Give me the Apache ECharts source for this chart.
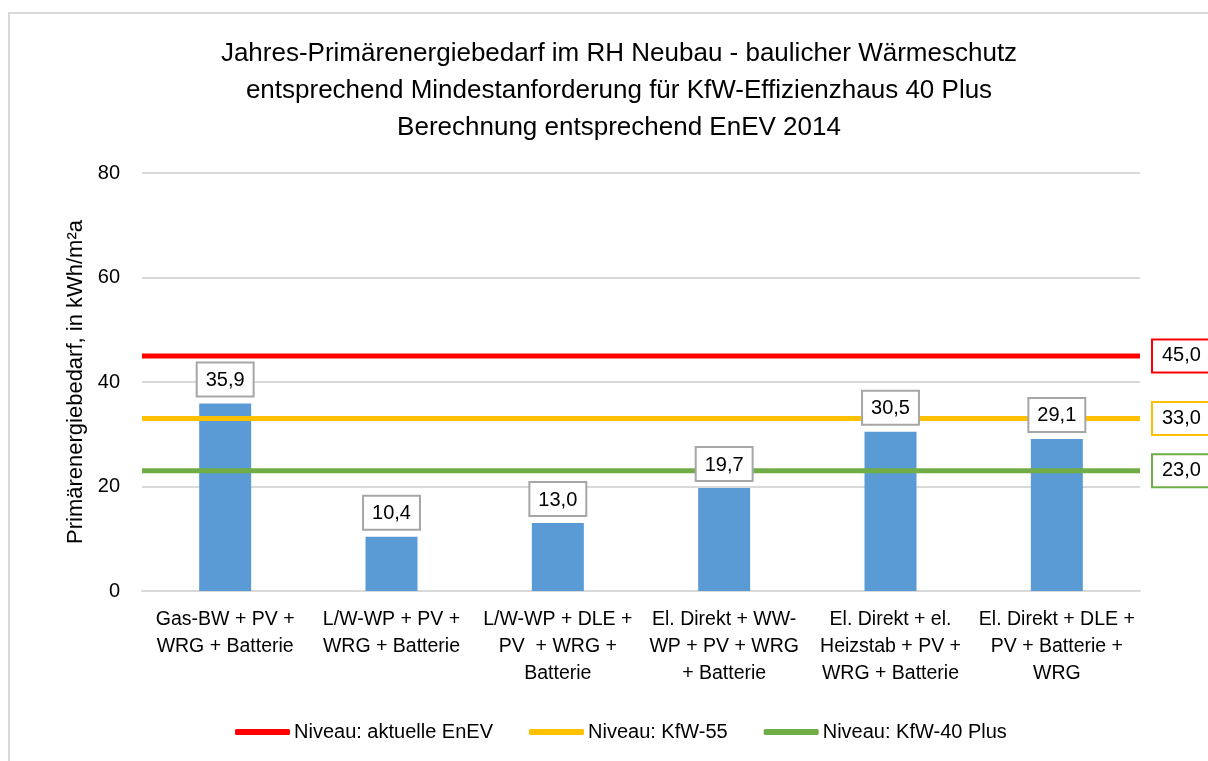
<!DOCTYPE html>
<html>
<head>
<meta charset="utf-8">
<script src="https://cdn.jsdelivr.net/npm/echarts@6/dist/echarts.min.js"></script>
<style>
  html, body { margin: 0; padding: 0; background: #fff; }
  #chart { width: 1208px; height: 761px; }
</style>
</head>
<body>
<div id="chart"></div>
<script>
const FONT = '"Liberation Sans Narrow", "Arial Narrow", "Liberation Sans", sans-serif';

const categories = [
  "Gas-BW + PV +\nWRG + Batterie",
  "L/W-WP + PV +\nWRG + Batterie",
  "L/W-WP + DLE +\nPV  + WRG +\nBatterie",
  "El. Direkt + WW-\nWP + PV + WRG\n+ Batterie",
  "El. Direkt + el.\nHeizstab + PV +\nWRG + Batterie",
  "El. Direkt + DLE +\nPV + Batterie +\nWRG"
];
const demand = [35.9, 10.4, 13.0, 19.7, 30.5, 29.1];

const levelNames = ["Niveau: aktuelle EnEV", "Niveau: KfW-55", "Niveau: KfW-40 Plus"];
const levelValues = [45.0, 33.0, 23.0];
const levelColors = ["#ff0000", "#ffc000", "#70ad47"];

const yTicks = [0, 20, 40, 60, 80];

const fmt = (v) => v.toFixed(1).replace(".", ",");

const chart = echarts.init(document.getElementById("chart"));

// reference levels drawn on a hidden 0..1 x axis so they span the whole plot
const levelSeries = levelNames.map((name, i) => ({
  name: name,
  type: "line",
  xAxisIndex: 1,
  yAxisIndex: 0,
  symbol: "none",
  z: 3,
  lineStyle: { color: levelColors[i], width: 5 },
  itemStyle: { color: levelColors[i] },
  data: [[0, levelValues[i]], [1, levelValues[i]]],
  endLabel: {
    show: true,
    formatter: () => fmt(levelValues[i]),
    color: "#000",
    fontFamily: FONT,
    fontSize: 20,
    backgroundColor: "#fff",
    borderColor: levelColors[i],
    borderWidth: 2,
    padding: [6, 9, 5, 9],
    distance: 13
  }
}));

const option = {
  animation: false,
  textStyle: { fontFamily: FONT },
  graphic: [
    {
      type: "rect",
      shape: { x: 9, y: 13, width: 1220, height: 780 },
      style: { fill: "none", stroke: "#d9d9d9", lineWidth: 2 },
      silent: true
    }
  ],
  title: {
    text: "Jahres-Primärenergiebedarf im RH Neubau - baulicher Wärmeschutz\nentsprechend Mindestanforderung für KfW-Effizienzhaus 40 Plus\nBerechnung entsprechend EnEV 2014",
    left: 614,
    textAlign: "center",
    top: 30,
    textStyle: {
      fontFamily: FONT,
      fontSize: 26,
      fontWeight: "normal",
      color: "#000",
      lineHeight: 37
    }
  },
  legend: {
    data: levelNames,
    bottom: 14,
    left: 230,
    icon: "roundRect",
    itemWidth: 55,
    itemHeight: 6,
    itemGap: 36,
    textStyle: { fontFamily: FONT, fontSize: 20, color: "#000", padding: [0, 0, 0, -1] }
  },
  grid: { left: 142, right: 68, top: 173, bottom: 170, containLabel: false },
  xAxis: [
    {
      type: "category",
      data: categories,
      axisTick: { show: false },
      axisLine: { lineStyle: { color: "#d9d9d9", width: 2 } },
      axisLabel: {
        interval: 0,
        color: "#000",
        fontFamily: FONT,
        fontSize: 19.5,
        lineHeight: 27,
        margin: 15
      }
    },
    { type: "value", min: 0, max: 1, show: false }
  ],
  yAxis: {
    type: "value",
    min: yTicks[0],
    max: yTicks[yTicks.length - 1],
    interval: 20,
    name: "Primärenergiebedarf, in kWh/m²a",
    nameLocation: "middle",
    nameGap: 55,
    nameTextStyle: { fontFamily: FONT, fontSize: 22, color: "#000" },
    axisLine: { show: false },
    axisTick: { show: false },
    splitLine: { lineStyle: { color: "#d9d9d9", width: 2 } },
    axisLabel: { color: "#000", fontFamily: FONT, fontSize: 20, margin: 22 }
  },
  series: [
    {
      name: "Primärenergiebedarf",
      type: "bar",
      barWidth: 52,
      z: 2,
      itemStyle: { color: "#5b9bd5" },
      data: demand
    },
    ...levelSeries,
    {
      // same values again, transparent, only to put the value boxes above the level lines
      name: "Werte",
      type: "bar",
      barWidth: 52,
      barGap: "-100%",
      z: 10,
      silent: true,
      itemStyle: { color: "rgba(0,0,0,0)" },
      data: demand,
      label: {
        show: true,
        position: "top",
        distance: 8,
        formatter: (p) => fmt(p.value),
        color: "#000",
        fontFamily: FONT,
        fontSize: 20,
        backgroundColor: "#fff",
        borderColor: "#a6a6a6",
        borderWidth: 2,
        padding: [7, 8, 5, 8]
      }
    }
  ]
};

chart.setOption(option);
</script>
</body>
</html>
